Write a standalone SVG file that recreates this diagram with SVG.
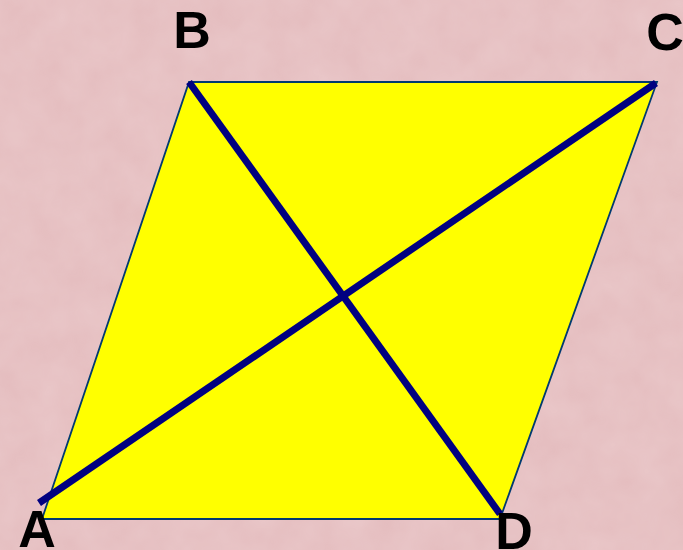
<svg xmlns="http://www.w3.org/2000/svg" width="683" height="550" viewBox="0 0 683 550">
<style>
.lbl{font-family:"Liberation Sans",Arial,sans-serif;font-weight:bold;font-size:52px;fill:#000;text-anchor:middle}
.diag{stroke:#000080;stroke-width:7;stroke-linecap:butt}
</style>
<defs>
<filter id="tex" x="0" y="0" width="100%" height="100%">
<feTurbulence type="fractalNoise" baseFrequency="0.03" numOctaves="3" seed="4"/>
<feColorMatrix type="matrix" values="0 0 0 0 1  0 0 0 0 0.9  0 0 0 0 0.9  0 0 0 0.35 0"/>
</filter>
</defs>
<rect width="683" height="550" fill="#e4bcbe"/>
<rect width="683" height="550" filter="url(#tex)" opacity="0.6"/>
<g id="shape">
<polygon points="42,519 189,82 657,82 500,519" fill="#ffff00" stroke="#003a70" stroke-width="1.8"/>
</g>
<g id="connectors">
<line class="diag" x1="39" y1="503" x2="656" y2="83"/>
<line class="diag" x1="189" y1="82" x2="500" y2="514"/>
</g>
<g id="A"><text class="lbl" x="37" y="547">A</text></g>
<g id="B"><text class="lbl" x="192" y="48">B</text></g>
<g id="C"><text class="lbl" x="665" y="50">C</text></g>
<g id="D"><text class="lbl" x="514" y="549">D</text></g>
</svg>
